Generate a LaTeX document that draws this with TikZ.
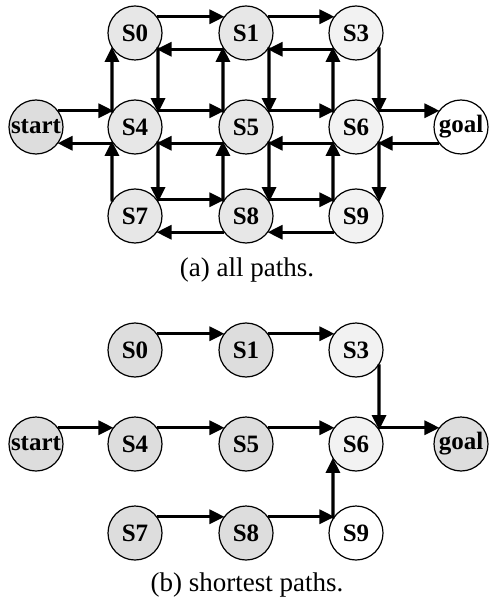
\documentclass[tikz,border=0pt]{standalone}
\usepackage{fontspec}
\setmainfont{Liberation Serif}
\usetikzlibrary{arrows.meta}
\begin{document}
\begin{tikzpicture}[x=1pt,y=-1pt,
  st/.style={circle,draw=black,line width=1.2pt,minimum size=54pt,inner sep=0pt,outer sep=0pt,
    font=\fontsize{25}{25}\selectfont\bfseries},
  dk/.style={st,fill=gray!27},
  md/.style={st,fill=gray!19},
  lt/.style={st,fill=gray!10},
  wh/.style={st,fill=white},
  ar/.style={line width=3.2pt,-{Triangle[length=15pt,width=14pt]}},
  captext/.style={font=\fontsize{27}{27}\selectfont}
]
\useasboundingbox (0,0) rectangle (489,609);
% ---------- (a) all paths ----------
\node[dk] (a-start) at (36,127) {start};
\node[md] (a-S0) at (135,33) {S0};
\node[md] (a-S4) at (135,127) {S4};
\node[md] (a-S7) at (135,216) {S7};
\node[md] (a-S1) at (246,33) {S1};
\node[md] (a-S5) at (246,127) {S5};
\node[md] (a-S8) at (246,216) {S8};
\node[lt] (a-S3) at (356,33) {S3};
\node[lt] (a-S6) at (356,127) {S6};
\node[lt] (a-S9) at (356,216) {S9};
\node[wh] (a-goal) at (461,127) {goal};
% horizontal pairs
\foreach \l/\r in {S0/S1,S1/S3,start/S4,S4/S5,S5/S6,S6/goal,S7/S8,S8/S9}{
  \draw[ar] (a-\l.37) -- (a-\r.143);
  \draw[ar] (a-\r.217) -- (a-\l.323);
}
% vertical pairs
\foreach \u/\d in {S0/S4,S4/S7,S1/S5,S5/S8,S3/S6,S6/S9}{
  \draw[ar] (a-\d.148.4) -- (a-\u.211.6);
  \draw[ar] (a-\u.328.4) -- (a-\d.31.6);
}
\node[captext] (capa) at (247,270) {(a) all paths.};
% ---------- (b) shortest paths ----------
\node[dk] (b-start) at (36,444) {start};
\node[dk] (b-S0) at (135,350) {S0};
\node[dk] (b-S4) at (135,444) {S4};
\node[dk] (b-S7) at (135,533) {S7};
\node[dk] (b-S1) at (246,350) {S1};
\node[dk] (b-S5) at (246,444) {S5};
\node[dk] (b-S8) at (246,533) {S8};
\node[lt] (b-S3) at (356,350) {S3};
\node[lt] (b-S6) at (356,444) {S6};
\node[wh] (b-S9) at (356,533) {S9};
\node[dk] (b-goal) at (461,444) {goal};
\foreach \l/\r in {S0/S1,S1/S3,start/S4,S4/S5,S5/S6,S6/goal,S7/S8,S8/S9}{
  \draw[ar] (b-\l.37) -- (b-\r.143);
}
\draw[ar] (b-S3.328.4) -- (b-S6.31.6);
\draw[ar] (b-S9.148.4) -- (b-S6.211.6);
\node[captext] (capb) at (247,585) {(b) shortest paths.};
\end{tikzpicture}
\end{document}
